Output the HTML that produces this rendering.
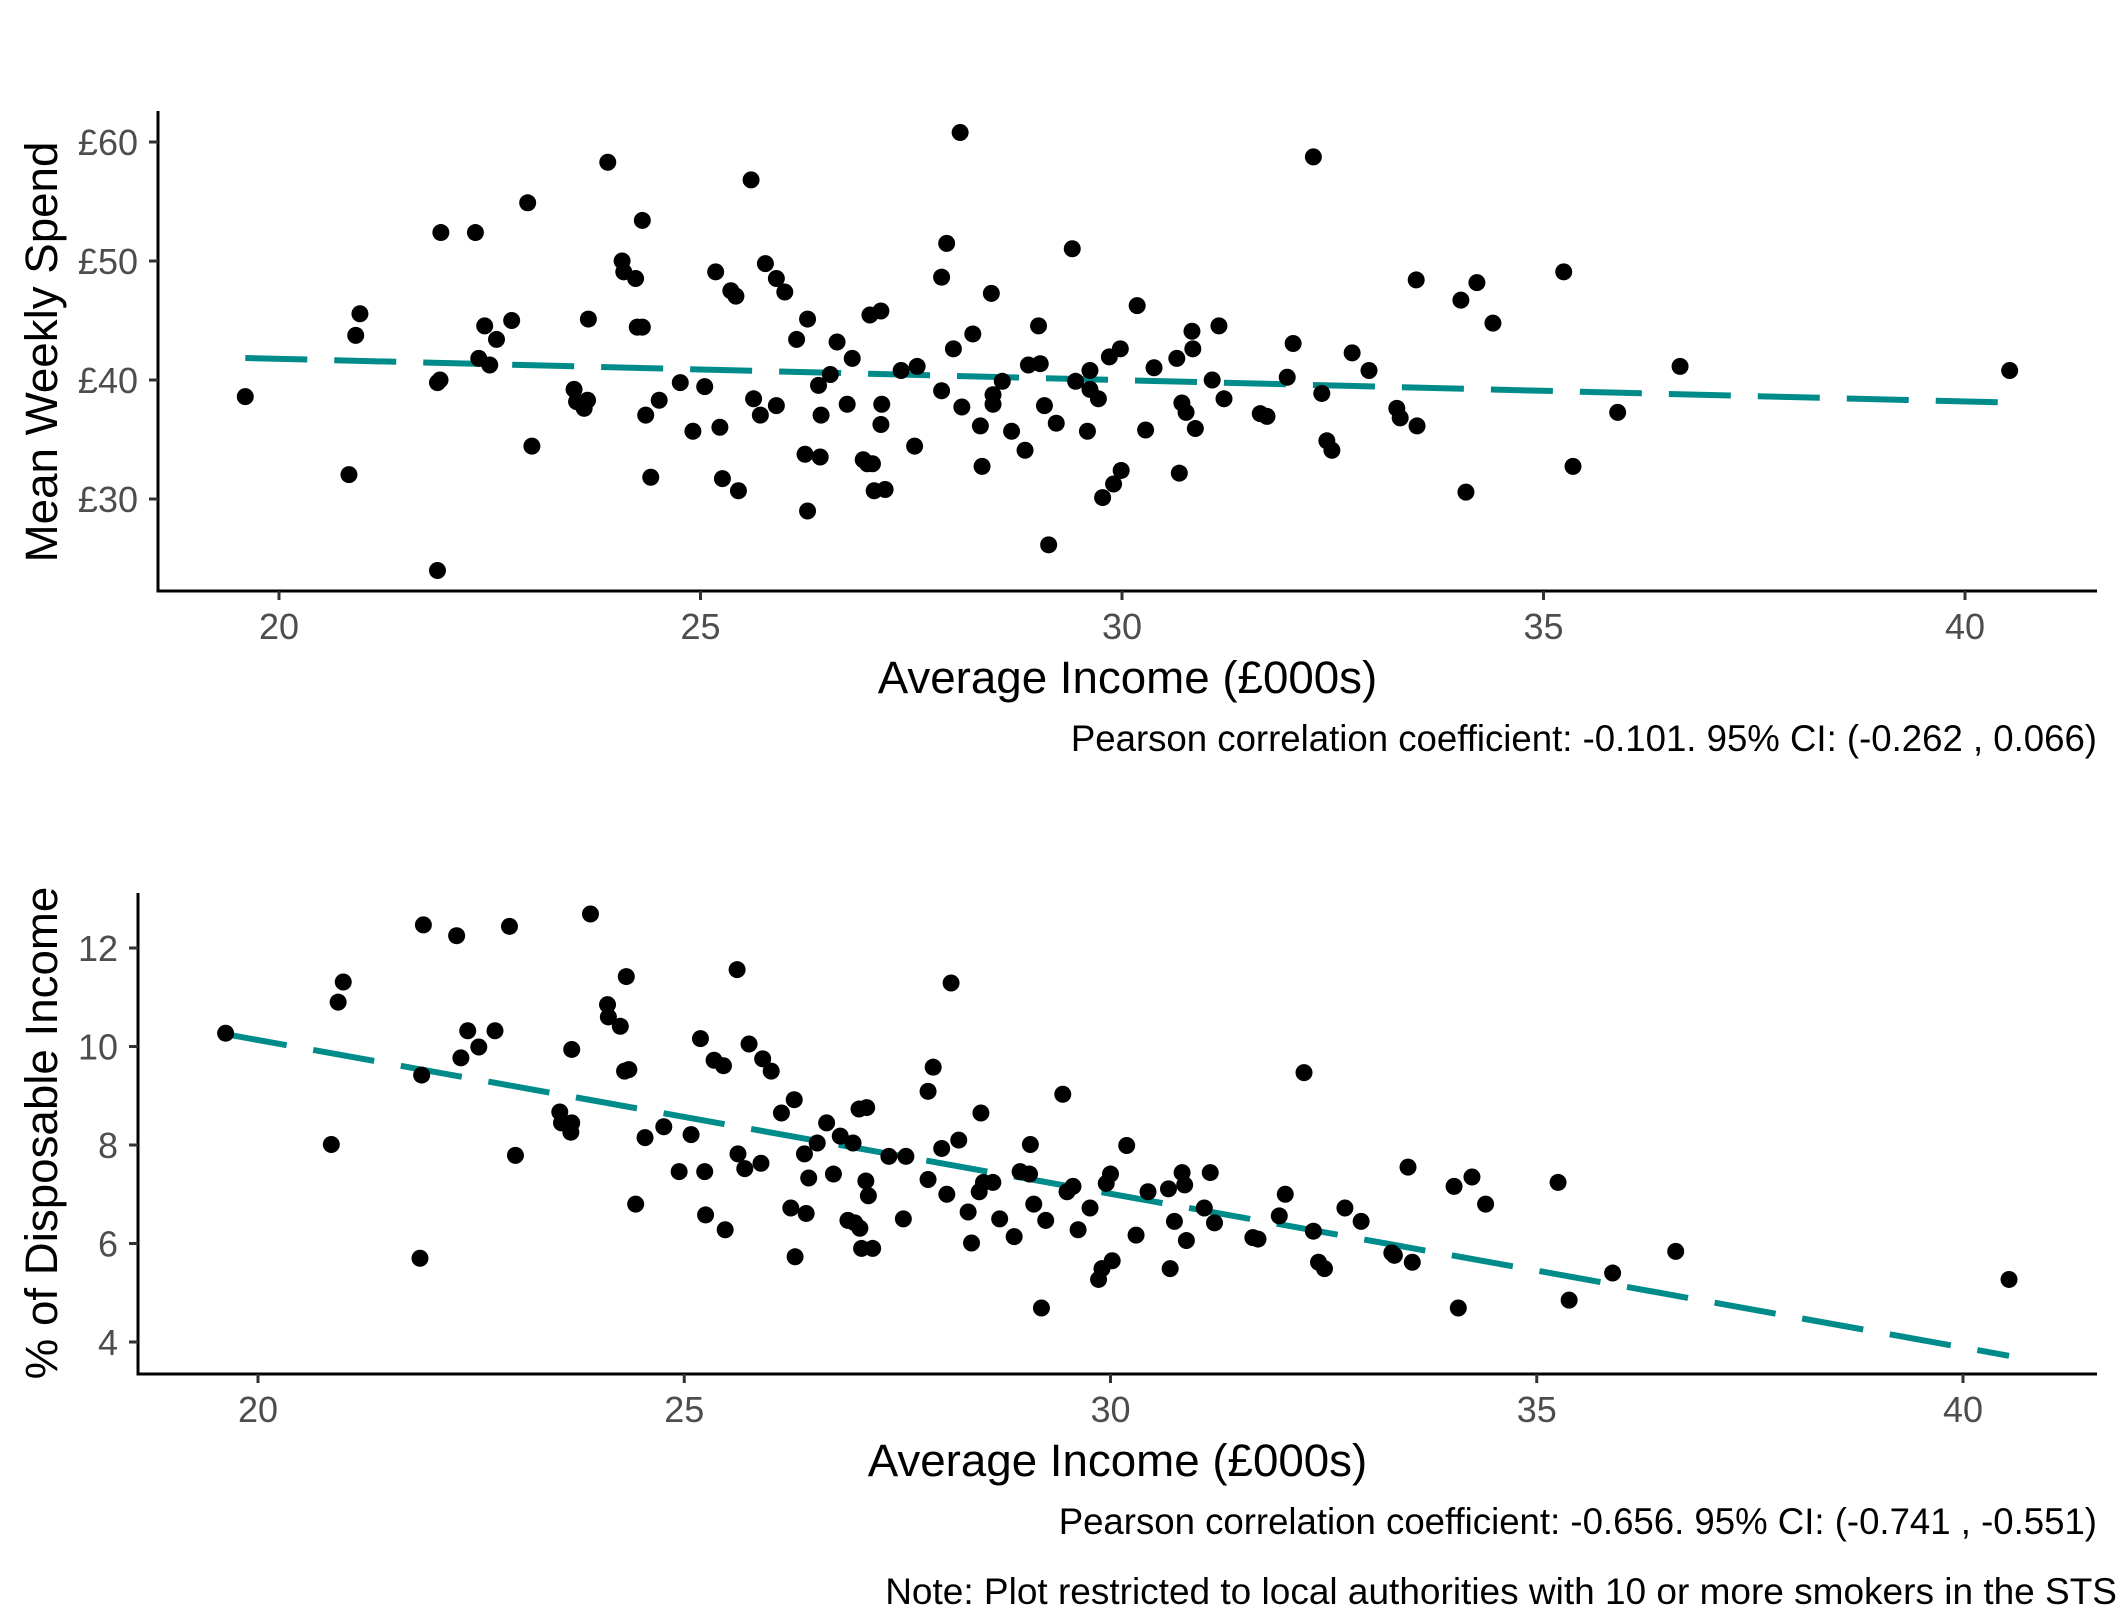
<!DOCTYPE html>
<html><head><meta charset="utf-8"><style>
html,body{margin:0;padding:0;background:#fff;}
svg{display:block;font-family:"Liberation Sans",Arial,sans-serif;}
</style></head><body>
<svg id="chart" width="2121" height="1621" viewBox="0 0 2121 1621">
<rect width="2121" height="1621" fill="#fff"/>
<g id="p1"></g>
<g id="p2"></g>
<text x="2117" y="1604" text-anchor="end" font-size="37" fill="#000">Note: Plot restricted to local authorities with 10 or more smokers in the STS</text>
</svg>
<script>
const spendIncome=[19.60,20.83,20.91,20.96,21.88,21.88,21.91,21.92,22.33,22.37,22.44,22.50,22.58,22.76,22.95,23.00,23.50,23.53,23.62,23.66,23.67,23.90,24.07,24.09,24.23,24.25,24.31,24.31,24.35,24.41,24.51,24.76,24.91,25.05,25.18,25.23,25.26,25.36,25.42,25.45,25.60,25.63,25.71,25.77,25.90,25.90,26.00,26.14,26.24,26.27,26.27,26.40,26.42,26.43,26.54,26.62,26.74,26.80,26.93,26.98,27.01,27.04,27.06,27.14,27.14,27.15,27.19,27.38,27.54,27.57,27.86,27.86,27.92,28.00,28.08,28.10,28.23,28.32,28.34,28.45,28.47,28.47,28.58,28.69,28.85,28.89,29.01,29.03,29.08,29.13,29.22,29.41,29.45,29.59,29.62,29.62,29.72,29.77,29.85,29.90,29.98,29.99,30.18,30.28,30.38,30.65,30.68,30.71,30.76,30.83,30.84,30.87,31.07,31.15,31.21,31.64,31.72,31.96,32.03,32.27,32.37,32.43,32.49,32.73,32.93,33.26,33.30,33.50,33.49,34.02,34.08,34.21,34.40,35.24,35.35,35.88,36.62,40.53];
const spendValues=[38.6,32.05,43.75,45.57,23.99,39.78,40.0,52.39,52.39,41.82,44.55,41.26,43.41,45.0,54.89,34.44,39.21,38.18,37.62,38.30,45.12,58.30,50.0,49.09,48.53,44.44,44.44,53.41,37.05,31.83,38.30,39.78,35.69,39.44,49.09,36.03,31.71,47.50,47.05,30.69,56.82,38.42,37.05,49.78,48.53,37.85,47.39,43.41,33.76,45.12,28.99,39.55,33.53,37.05,40.46,43.19,37.96,41.82,33.30,32.96,45.46,32.96,30.69,45.80,36.26,37.96,30.80,40.80,34.44,41.14,48.64,39.10,51.48,42.62,60.80,37.73,43.87,36.14,32.74,47.28,38.76,37.96,39.89,35.69,34.10,41.26,44.55,41.37,37.85,26.15,36.37,51.03,39.89,35.69,40.80,39.21,38.42,30.12,41.94,31.26,42.62,32.40,46.25,35.80,41.03,41.82,32.17,38.07,37.28,44.10,42.62,35.92,40.0,44.55,38.42,37.17,36.94,40.23,43.07,58.75,38.87,34.89,34.10,42.28,40.80,37.62,36.82,36.14,48.41,46.71,30.58,48.18,44.78,49.09,32.74,37.28,41.14,40.80];
const pctIncome=[19.62,20.86,20.94,21.00,21.90,21.92,21.94,22.33,22.38,22.46,22.59,22.78,22.95,23.02,23.54,23.56,23.67,23.68,23.68,23.90,24.10,24.11,24.25,24.30,24.32,24.35,24.43,24.54,24.76,24.94,25.08,25.19,25.24,25.25,25.35,25.46,25.48,25.62,25.63,25.71,25.76,25.90,25.92,26.02,26.14,26.25,26.29,26.30,26.41,26.43,26.46,26.56,26.67,26.75,26.83,26.92,26.98,27.00,27.05,27.06,27.08,27.13,27.14,27.16,27.21,27.40,27.57,27.60,27.86,27.86,27.92,28.02,28.08,28.13,28.22,28.33,28.37,28.46,28.48,28.51,28.62,28.70,28.87,28.94,29.05,29.06,29.10,29.19,29.24,29.44,29.49,29.56,29.62,29.76,29.86,29.90,29.95,30.00,30.02,30.19,30.30,30.44,30.68,30.70,30.75,30.84,30.87,30.89,31.10,31.17,31.22,31.67,31.73,31.98,32.05,32.27,32.38,32.44,32.51,32.75,32.94,33.30,33.33,33.49,33.54,34.03,34.08,34.24,34.40,35.25,35.38,35.89,36.63,40.54];
const pctValues=[10.27,8.01,10.90,11.31,5.70,9.42,12.47,12.25,9.77,10.32,9.99,10.32,12.44,7.79,8.67,8.45,8.26,8.45,9.94,12.69,10.85,10.60,10.41,9.50,11.42,9.53,6.80,8.15,8.37,7.46,8.21,10.16,7.46,6.58,9.72,9.61,6.28,11.56,7.82,7.52,10.05,7.63,9.75,9.50,8.65,6.72,8.92,5.73,7.82,6.61,7.33,8.04,8.45,7.41,8.18,6.47,8.04,6.42,8.73,6.31,5.90,7.27,8.76,6.97,5.90,7.77,6.50,7.77,7.30,9.09,9.58,7.93,7.0,11.29,8.10,6.64,6.01,7.05,8.65,7.24,7.24,6.50,6.14,7.46,7.41,8.01,6.80,4.69,6.47,9.03,7.05,7.16,6.28,6.72,5.27,5.49,7.22,7.41,5.65,7.99,6.17,7.05,7.11,5.49,6.45,7.44,7.19,6.06,6.72,7.44,6.42,6.12,6.09,6.56,7.0,9.47,6.25,5.62,5.49,6.72,6.45,5.81,5.76,7.55,5.62,7.16,4.69,7.35,6.80,7.24,4.85,5.40,5.84,5.27];
const spendFitX=[19.6,40.53];
const spendFitY=[41.85,38.1];
const pctFitX=[19.62,40.54];
const pctFitY=[10.25,3.72];
const xTicks=[20,25,30,35,40];
const spendTicks=[30,40,50,60];
const spendTickLabels=["£30","£40","£50","£60"];
const pctTicks=[4,6,8,10,12];
const pctTickLabels=["4","6","8","10","12"];

const NS="http://www.w3.org/2000/svg";
function mk(parent,tag,attrs){const e=document.createElementNS(NS,tag);for(const k in attrs)e.setAttribute(k,attrs[k]);parent.appendChild(e);return e;}

function panel(g,cfg){
  const sx=v=>cfg.x0px+(v-cfg.x0)*cfg.xs;
  const sy=v=>cfg.y0px-(v-cfg.y0)*cfg.ys;
  const ln=mk(g,'line',{x1:sx(cfg.fitX[0]),y1:sy(cfg.fitY[0]),x2:sx(cfg.fitX[1]),y2:sy(cfg.fitY[1]),stroke:'#008B8B','stroke-width':6,'stroke-dasharray':'62 27',fill:'none'});
  
  
  for(let i=0;i<cfg.xs_data.length;i++){
    const c=mk(g,'circle',{cx:sx(cfg.xs_data[i]),cy:sy(cfg.ys_data[i]),r:8.5,fill:'#000'});
    
    
  }
  const ya=mk(g,'line',{x1:cfg.left,y1:cfg.top,x2:cfg.left,y2:cfg.bottom+1.5,stroke:'#000','stroke-width':3});
  
  
  const xa=mk(g,'line',{x1:cfg.left-1.5,y1:cfg.bottom,x2:cfg.right,y2:cfg.bottom,stroke:'#000','stroke-width':3});
  
  
  xTicks.forEach(t=>{
    const tk=mk(g,'line',{x1:sx(t),y1:cfg.bottom,x2:sx(t),y2:cfg.bottom+9,stroke:'#333','stroke-width':3});
    
    
    const tl=mk(g,'text',{x:sx(t),y:cfg.bottom+48,'text-anchor':'middle','font-size':36,fill:'#4d4d4d'});
    tl.textContent=t;
    
    
  });
  cfg.yT.forEach((t,i)=>{
    const tk=mk(g,'line',{x1:cfg.left-9,y1:sy(t),x2:cfg.left,y2:sy(t),stroke:'#333','stroke-width':3});
    
    
    const tl=mk(g,'text',{x:cfg.left-20,y:sy(t)+13,'text-anchor':'end','font-size':36,fill:'#4d4d4d'});
    tl.textContent=cfg.yL[i];
    
    
  });
  const xt=mk(g,'text',{x:(cfg.left+cfg.right)/2,y:cfg.bottom+102,'text-anchor':'middle','font-size':45.7,fill:'#000'});
  xt.textContent='Average Income (£000s)';
  
  
  const yt=mk(g,'text',{x:0,y:0,transform:`translate(57,${cfg.ytitleY}) rotate(-90)`,'text-anchor':'middle','font-size':45.7,fill:'#000'});
  yt.textContent=cfg.ytitle;
  
  
  const cap=mk(g,'text',{x:2097,y:cfg.bottom+160,'text-anchor':'end','font-size':36.6,fill:'#000'});
  cap.textContent=cfg.caption;
  
  
}

panel(document.getElementById('p1'),{x0:20,x0px:279,xs:84.3,y0:40,y0px:380,ys:11.9,left:158,right:2097,top:111,bottom:591,
  xs_data:spendIncome,ys_data:spendValues,fitX:spendFitX,fitY:spendFitY,yT:spendTicks,yL:spendTickLabels,
  ytitle:'Mean Weekly Spend',ytitleY:352,caption:'Pearson correlation coefficient: -0.101. 95% CI: (-0.262 , 0.066)'});
panel(document.getElementById('p2'),{x0:20,x0px:258,xs:85.25,y0:10,y0px:1046.5,ys:49.25,left:138,right:2097,top:893,bottom:1374,
  xs_data:pctIncome,ys_data:pctValues,fitX:pctFitX,fitY:pctFitY,yT:pctTicks,yL:pctTickLabels,
  ytitle:'% of Disposable Income',ytitleY:1133,caption:'Pearson correlation coefficient: -0.656. 95% CI: (-0.741 , -0.551)'});
</script>
</body></html>
